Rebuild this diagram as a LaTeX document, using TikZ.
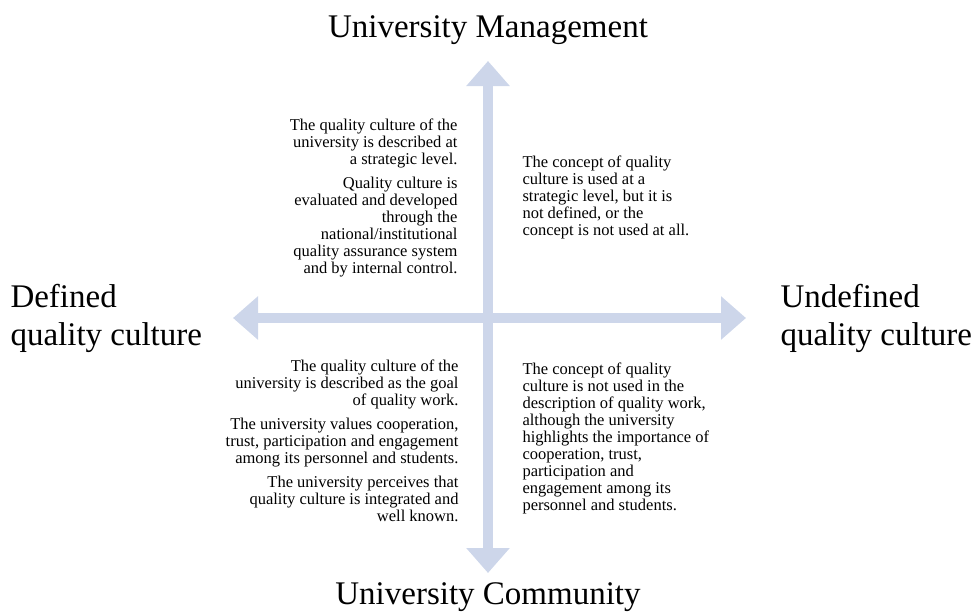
\documentclass[tikz,border=0pt]{standalone}
\usepackage{fontspec}
\setmainfont{Liberation Serif}
\usetikzlibrary{arrows.meta}
\definecolor{axisblue}{RGB}{205,214,234}
\tikzset{
  every picture/.style={
    line width=1pt
  },
  axis/.style={
    draw=axisblue, line width=10pt,
    {Triangle[length=25pt,width=42pt]}-{Triangle[length=25pt,width=42pt]}
  },
  pole/.style={font=\fontsize{33}{38}\selectfont, inner sep=0pt},
  desc/.style={font=\fontsize{16.5}{17}\selectfont, inner sep=0pt}
}

\begin{document}
\begin{tikzpicture}[x=1pt,y=-1pt]
  \useasboundingbox (0,0) rectangle (975,614);

  % ends of the two axes
  \coordinate (west)  at (233,318);
  \coordinate (east)  at (746,318);
  \coordinate (north) at (488,61);
  \coordinate (south) at (488,573);

  \draw [axis] (south) -- (north);
  \draw [axis] (west) -- (east);

  \node[pole, anchor=base] (mgmt) at (488,37) {University Management};
  \node[pole, anchor=base] (comm) at (488,604) {University Community};
  \node[pole, align=left, anchor=west] (defined) at (10,318) {Defined\\quality culture};
  \node[pole, align=left, anchor=west] (undefined) at (780,318) {Undefined\\quality culture};

  \node[desc, align=right, anchor=north east] (tl) at (458,118)
    {The quality culture of the\\ university is described at\\ a strategic level.\\[7pt]
     Quality culture is\\ evaluated and developed\\ through the\\ national/institutional\\
     quality assurance system\\ and by internal control.};
  \node[desc, align=left, anchor=north west] (tr) at (522,155)
    {The concept of quality\\ culture is used at a\\ strategic level, but it is\\
     not defined, or the\\ concept is not used at all.};
  \node[desc, align=right, anchor=north east] (bl) at (459,359)
    {The quality culture of the\\ university is described as the goal\\ of quality work.\\[7pt]
     The university values cooperation,\\ trust, participation and engagement\\
     among its personnel and students.\\[7pt]
     The university perceives that\\ quality culture is integrated and\\ well known.};
  \node[desc, align=left, anchor=north west] (br) at (522,362)
    {The concept of quality\\ culture is not used in the\\ description of quality work,\\
     although the university\\ highlights the importance of\\ cooperation, trust,\\
     participation and\\ engagement among its\\ personnel and students.};
\end{tikzpicture}
\end{document}
